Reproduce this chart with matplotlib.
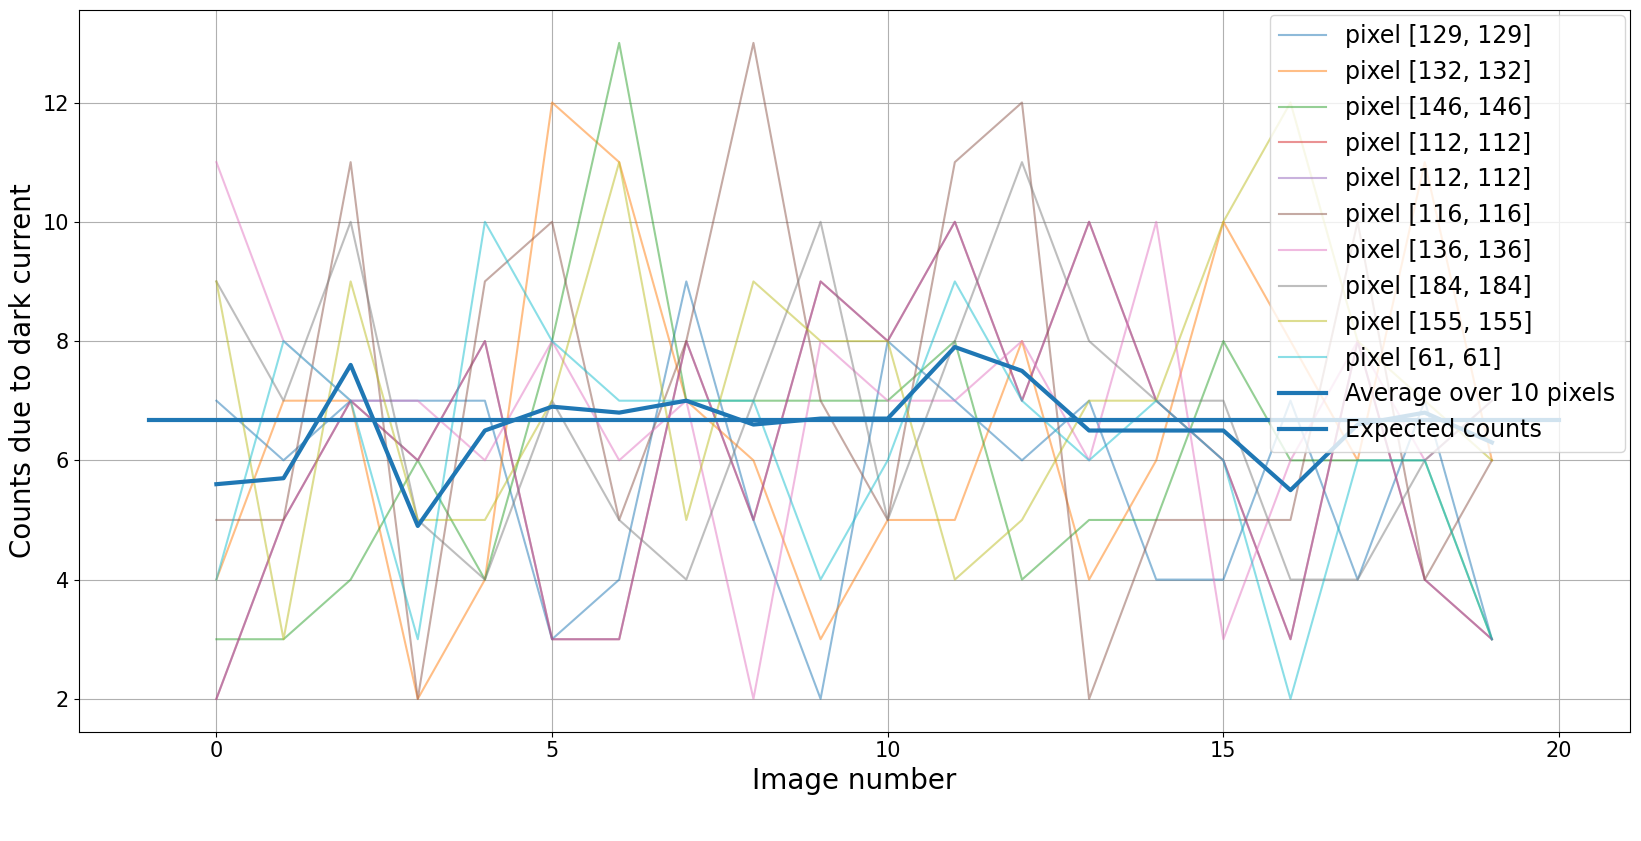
import matplotlib
matplotlib.use("Agg")
import matplotlib.pyplot as plt
import numpy as np

labels = ["pixel [129, 129]", "pixel [132, 132]", "pixel [146, 146]", "pixel [112, 112]",
          "pixel [112, 112]", "pixel [116, 116]", "pixel [136, 136]", "pixel [184, 184]",
          "pixel [155, 155]", "pixel [61, 61]"]
p129 = [7,6,7,7,7,3,4,9,5,2,8,7,6,7,4,4,7,4,7,3]
p132 = [4,7,7,2,4,12,11,7,6,3,5,5,8,4,6,10,8,6,11,6]
p146 = [3,3,4,6,4,8,13,7,7,7,7,8,4,5,5,8,6,6,6,3]
p112 = [2,5,7,6,8,3,3,8,5,9,8,10,7,10,7,6,3,8,4,3]
p116 = [5,5,11,2,9,10,5,8,13,7,5,11,12,2,5,5,5,10,4,6]
p136 = [11,8,7,7,6,8,6,7,2,8,7,7,8,6,10,3,6,8,6,7]
p184 = [9,7,10,5,4,7,5,4,7,10,5,8,11,8,7,7,4,4,6,7]
p155 = [9,3,9,5,5,7,11,5,9,8,8,4,5,7,7,10,12,8,7,6]
p61 = [4,8,7,3,10,8,7,7,7,4,6,9,7,6,7,6,2,6,6,3]
series = [p129, p132, p146, p112, p112, p116, p136, p184, p155, p61]
average = [5.6,5.7,7.6,4.9,6.5,6.9,6.8,7.0,6.6,6.7,6.7,7.9,7.5,6.5,6.5,6.5,5.5,6.6,6.8,6.3]
expected = 6.67
exp_x = [-1, 20]

x = np.arange(20)
fig, ax = plt.subplots(figsize=(16.41, 8.41), dpi=100)
for s, l in zip(series, labels):
    ax.plot(x, s, alpha=0.5, label=l)
ax.plot(x, average, lw=3, color="tab:blue", label="Average over 10 pixels")
ax.plot(exp_x, [expected, expected], lw=3, color="tab:blue", label="Expected counts")
ax.set_xlabel("Image number", fontsize=20)
ax.set_ylabel("Counts due to dark current", fontsize=20)
ax.tick_params(labelsize=15)
ax.grid(True)
ax.legend(fontsize=17, loc="upper right", borderaxespad=0.2)
fig.subplots_adjust(left=0.048, right=0.993, top=0.988, bottom=0.13)
fig.savefig("out.png")
